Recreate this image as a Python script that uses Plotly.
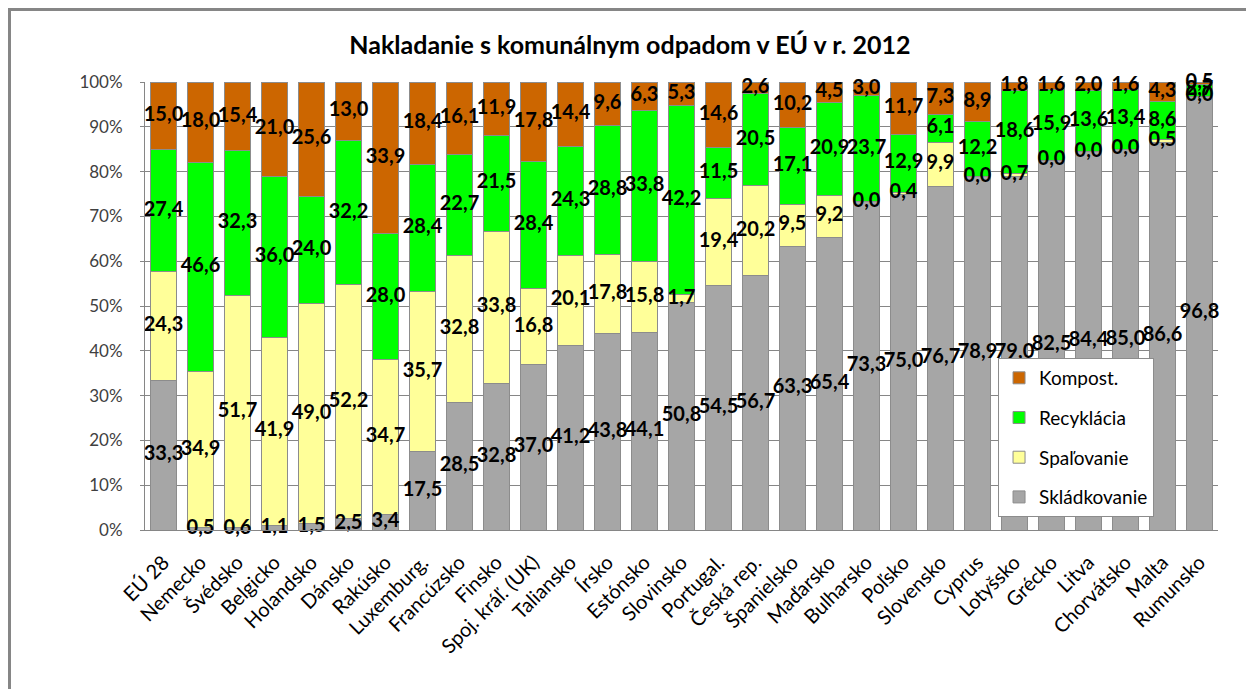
import plotly.graph_objects as go

categories = ["EÚ 28", "Nemecko", "Švédsko", "Belgicko", "Holandsko", "Dánsko", "Rakúsko",
              "Luxemburg.", "Francúzsko", "Finsko", "Spoj. kráľ. (UK)", "Taliansko", "Írsko",
              "Estónsko", "Slovinsko", "Portugal.", "Česká rep.", "Španielsko", "Maďarsko",
              "Bulharsko", "Poľsko", "Slovensko", "Cyprus", "Lotyšsko", "Grécko", "Litva",
              "Chorvátsko", "Malta", "Rumunsko"]

skladkovanie = [33.3, 0.5, 0.6, 1.1, 1.5, 2.5, 3.4, 17.5, 28.5, 32.8, 37.0, 41.2, 43.8, 44.1,
                50.8, 54.5, 56.7, 63.3, 65.4, 73.3, 75.0, 76.7, 78.9, 79.0, 82.5, 84.4, 85.0,
                86.6, 96.8]
spalovanie = [24.3, 34.9, 51.7, 41.9, 49.0, 52.2, 34.7, 35.7, 32.8, 33.8, 16.8, 20.1, 17.8, 15.8,
              1.7, 19.4, 20.2, 9.5, 9.2, 0.0, 0.4, 9.9, 0.0, 0.7, 0.0, 0.0, 0.0, 0.5, 0.0]
recyklacia = [27.4, 46.6, 32.3, 36.0, 24.0, 32.2, 28.0, 28.4, 22.7, 21.5, 28.4, 24.3, 28.8, 33.8,
              42.2, 11.5, 20.5, 17.1, 20.9, 23.7, 12.9, 6.1, 12.2, 18.6, 15.9, 13.6, 13.4, 8.6, 2.7]
kompost = [15.0, 18.0, 15.4, 21.0, 25.6, 13.0, 33.9, 18.4, 16.1, 11.9, 17.8, 14.4, 9.6, 6.3,
           5.3, 14.6, 2.6, 10.2, 4.5, 3.0, 11.7, 7.3, 8.9, 1.8, 1.6, 2.0, 1.6, 4.3, 0.5]

series = [
    ("Skládkovanie", skladkovanie, "#A6A6A6", 4),
    ("Spaľovanie", spalovanie, "#FFFF99", 3),
    ("Recyklácia", recyklacia, "#00FF00", 2),
    ("Kompost.", kompost, "#CC6600", 1),
]

fig = go.Figure()
for name, vals, col, rank in series:
    fig.add_trace(go.Bar(
        x=categories, y=vals, name=name, legendgroup=name, legendrank=rank,
        marker=dict(color=col, line=dict(color="#8C8C8C", width=1)),
        hoverinfo="skip",
    ))

# data labels centred in each segment (normalised to 100 %)
totals = [sum(s[1][j] for s in series) for j in range(len(categories))]
base = [0.0] * len(categories)
for name, vals, col, rank in series:
    mids = []
    for j, v in enumerate(vals):
        pv = v / totals[j] * 100
        mids.append(base[j] + pv / 2)
        base[j] += pv
    fig.add_trace(go.Scatter(
        x=categories, y=mids, mode="text",
        text=[f"{v:.1f}".replace(".", ",") for v in vals],
        textfont=dict(family="Lato", size=20, color="#000000", weight="bold"),
        showlegend=False, hoverinfo="skip", cliponaxis=False,
    ))

# page body has an 8px margin, so figure coords = screen coords - 8
ML, MT, PW, PH = 137, 74, 1073, 448

fig.update_layout(
    width=1254, height=689,
    barmode="stack", barnorm="percent", bargap=0.32,
    paper_bgcolor="white", plot_bgcolor="white",
    margin=dict(l=ML, r=1254 - ML - PW, t=MT, b=689 - MT - PH, autoexpand=False),
    font=dict(family="Lato", color="#404040"),
    title=dict(text="<b>Nakladanie s komunálnym odpadom v EÚ v r. 2012</b>",
               x=0.496, xanchor="center", y=0.946, yanchor="middle",
               font=dict(family="Lato", size=25, color="#000000")),
    legend=dict(
        x=0.795, y=0.384, xanchor="left", yanchor="top",
        traceorder="grouped", tracegroupgap=12, entrywidth=160,
        bgcolor="white", bordercolor="#8C8C8C", borderwidth=1,
        font=dict(family="Lato", size=19, color="#000000"),
    ),
    showlegend=True,
)
fig.update_xaxes(
    range=[-0.5, len(categories) - 0.5],
    tickangle=-45, tickfont=dict(family="Lato", size=20, color="#000000"),
    showline=True, linecolor="#868686", linewidth=1, ticks="", automargin=False,
    ticklabelstandoff=12,
)
fig.update_yaxes(
    range=[0, 100], dtick=10, ticksuffix="%",
    tickfont=dict(family="Lato", size=17, color="#404040"),
    showgrid=True, gridcolor="#868686", gridwidth=1,
    showline=True, linecolor="#868686", linewidth=1,
    ticks="outside", ticklen=4, tickcolor="#868686", zeroline=False, automargin=False,
    ticklabelstandoff=14,
)

# outer chart-area frame
fig.add_shape(type="rect", xref="paper", yref="paper",
              x0=(1.5 - ML) / PW, x1=(1400 - ML) / PW,
              y0=(MT + PH - 800) / PH, y1=(MT + PH - 1.5) / PH,
              line=dict(color="#868686", width=3), fillcolor="rgba(0,0,0,0)", layer="below")

fig.write_html("out.html")
